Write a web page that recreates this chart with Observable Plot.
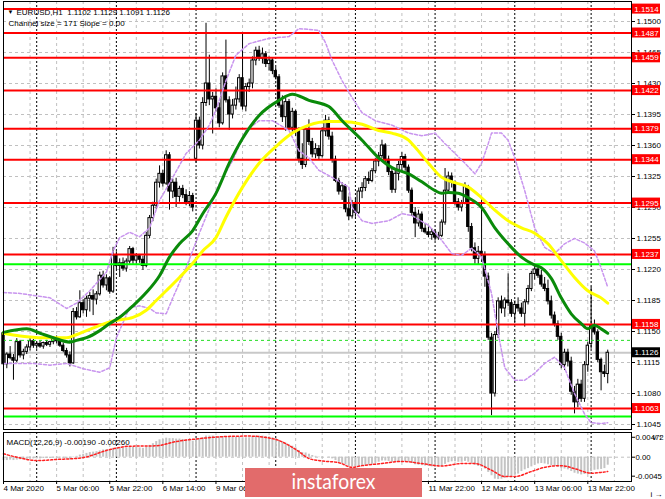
<!DOCTYPE html>
<html><head><meta charset="utf-8">
<script src="https://cdn.jsdelivr.net/npm/d3@7"></script>
<script src="https://cdn.jsdelivr.net/npm/@observablehq/plot@0.6"></script>
<style>
body{margin:0;background:#fff;}
#wrap{position:relative;width:665px;height:499px;overflow:hidden;background:#fff;}
#wrap > svg, #wrap > figure > svg{display:block;}
#logo{position:absolute;left:245px;top:468px;width:177px;height:29px;}
</style></head><body><div id="wrap"></div>
<script>
// ---- candle data (EURUSD H1) ----
const open = [
1.1148,1.1113,1.1124,1.1120,1.1117,1.1138,1.1123,1.1127,1.1132,1.1139,
1.1134,1.1136,1.1133,1.1137,1.1135,1.1138,1.1142,1.1139,1.1134,1.1128,
1.1123,1.1114,1.1172,1.1166,1.1182,1.1174,1.1187,1.1190,1.1186,1.1192,
1.1213,1.1202,1.1210,1.1195,1.1236,1.1224,1.1227,1.1221,1.1229,1.1243,
1.1230,1.1235,1.1231,1.1224,1.1258,1.1278,1.1292,1.1318,1.1328,1.1317,
1.1349,1.1308,1.1318,1.1302,1.1311,1.1304,1.1296,1.1303,1.1345,1.1388,
1.1360,1.1408,1.1430,1.1412,1.1415,1.1402,1.1385,1.1438,1.1411,1.1395,
1.1405,1.1412,1.1436,1.1404,1.1426,1.1430,1.1456,1.1467,1.1458,1.1463,
1.1452,1.1456,1.1444,1.1437,1.1405,1.1392,1.1409,1.1380,1.1398,1.1377,
1.1345,1.1338,1.1378,1.1364,1.1350,1.1356,1.1348,1.1376,1.1388,1.1370,
1.1344,1.1320,1.1308,1.1314,1.1288,1.1280,1.1294,1.1284,1.1308,1.1312,
1.1322,1.1320,1.1331,1.1342,1.1348,1.1360,1.1344,1.1330,1.1310,1.1328,
1.1338,1.1347,1.1335,1.1309,1.1284,1.1272,1.1282,1.1266,1.1262,1.1259,
1.1262,1.1256,1.1258,1.1273,1.1309,1.1325,1.1318,1.1296,1.1290,1.1295,
1.1313,1.1268,1.1244,1.1232,1.1240,1.1236,1.1212,1.1143,1.1080,1.1146,
1.1184,1.1176,1.1185,1.1182,1.1170,1.1180,1.1176,1.1170,1.1183,1.1198,
1.1215,1.1220,1.1213,1.1203,1.1198,1.1184,1.1168,1.1158,1.1144,1.1112,
1.1126,1.1116,1.1082,1.1070,1.1090,1.1074,1.1112,1.1136,1.1156,1.1149,
1.1118,1.1104,1.1102];
const high = [
1.1153,1.1126,1.1133,1.1124,1.1142,1.1140,1.1130,1.1135,1.1142,1.1141,
1.1138,1.1139,1.1138,1.1140,1.1139,1.1144,1.1145,1.1141,1.1137,1.1131,
1.1127,1.1176,1.1177,1.1196,1.1186,1.1190,1.1194,1.1197,1.1195,1.1217,
1.1218,1.1214,1.1212,1.1245,1.1240,1.1232,1.1233,1.1232,1.1246,1.1245,
1.1238,1.1237,1.1235,1.1262,1.1281,1.1296,1.1322,1.1337,1.1332,1.1354,
1.1352,1.1322,1.1323,1.1314,1.1315,1.1310,1.1308,1.1306,1.1396,1.1392,
1.1414,1.1498,1.1462,1.1420,1.1424,1.1408,1.1442,1.1479,1.1415,1.1412,
1.1426,1.1440,1.1486,1.1430,1.1435,1.1460,1.1471,1.1472,1.1470,1.1466,
1.1460,1.1458,1.1448,1.1440,1.1416,1.1413,1.1412,1.1402,1.1400,1.1380,
1.1362,1.1382,1.1389,1.1368,1.1362,1.1360,1.1380,1.1394,1.1392,1.1375,
1.1348,1.1323,1.1318,1.1316,1.1302,1.1298,1.1300,1.1312,1.1318,1.1325,
1.1330,1.1334,1.1345,1.1352,1.1366,1.1362,1.1348,1.1334,1.1332,1.1342,
1.1352,1.1350,1.1338,1.1312,1.1290,1.1287,1.1285,1.1272,1.1268,1.1266,
1.1265,1.1262,1.1276,1.1334,1.1330,1.1329,1.1320,1.1300,1.1298,1.1318,
1.1315,1.1272,1.1250,1.1246,1.1301,1.1240,1.1216,1.1148,1.1150,1.1188,
1.1190,1.1188,1.1215,1.1186,1.1184,1.1188,1.1182,1.1186,1.1202,1.1218,
1.1224,1.1224,1.1219,1.1211,1.1208,1.1190,1.1172,1.1162,1.1148,1.1130,
1.1130,1.1121,1.1088,1.1096,1.1095,1.1116,1.1138,1.1200,1.1163,1.1152,
1.1120,1.1112,1.1129];
const low = [
1.1110,1.1108,1.1118,1.1095,1.1115,1.1120,1.1118,1.1124,1.1128,1.1131,
1.1130,1.1131,1.1130,1.1133,1.1132,1.1135,1.1136,1.1132,1.1126,1.1120,
1.1110,1.1113,1.1163,1.1165,1.1170,1.1166,1.1172,1.1168,1.1180,1.1190,
1.1199,1.1196,1.1192,1.1193,1.1220,1.1211,1.1218,1.1217,1.1226,1.1226,
1.1226,1.1227,1.1219,1.1222,1.1255,1.1274,1.1288,1.1312,1.1313,1.1315,
1.1287,1.1300,1.1290,1.1296,1.1300,1.1292,1.1291,1.1285,1.1340,1.1356,
1.1355,1.1404,1.1405,1.1373,1.1398,1.1380,1.1383,1.1408,1.1377,1.1390,
1.1400,1.1408,1.1400,1.1398,1.1420,1.1424,1.1450,1.1455,1.1452,1.1448,
1.1444,1.1440,1.1434,1.1402,1.1386,1.1376,1.1377,1.1375,1.1370,1.1340,
1.1333,1.1335,1.1360,1.1346,1.1345,1.1344,1.1346,1.1370,1.1366,1.1340,
1.1318,1.1304,1.1298,1.1284,1.1275,1.1277,1.1279,1.1282,1.1300,1.1308,
1.1316,1.1318,1.1328,1.1336,1.1345,1.1340,1.1326,1.1306,1.1306,1.1320,
1.1330,1.1331,1.1306,1.1280,1.1256,1.1268,1.1262,1.1260,1.1256,1.1253,
1.1252,1.1253,1.1256,1.1270,1.1305,1.1312,1.1292,1.1286,1.1285,1.1293,
1.1262,1.1240,1.1226,1.1225,1.1228,1.1200,1.1140,1.1055,1.1076,1.1142,
1.1170,1.1166,1.1178,1.1166,1.1160,1.1172,1.1166,1.1155,1.1180,1.1195,
1.1208,1.1210,1.1200,1.1195,1.1180,1.1164,1.1155,1.1140,1.1108,1.1106,
1.1110,1.1078,1.1057,1.1064,1.1070,1.1070,1.1104,1.1130,1.1146,1.1115,
1.1083,1.1098,1.1091];
const close = [
1.1113,1.1124,1.1120,1.1117,1.1138,1.1123,1.1127,1.1132,1.1139,1.1134,
1.1136,1.1133,1.1137,1.1135,1.1138,1.1142,1.1139,1.1134,1.1128,1.1123,
1.1114,1.1172,1.1166,1.1182,1.1174,1.1187,1.1190,1.1186,1.1192,1.1213,
1.1202,1.1210,1.1195,1.1236,1.1224,1.1227,1.1221,1.1229,1.1243,1.1230,
1.1235,1.1231,1.1224,1.1258,1.1278,1.1292,1.1318,1.1328,1.1317,1.1349,
1.1308,1.1318,1.1302,1.1311,1.1304,1.1296,1.1303,1.1290,1.1388,1.1360,
1.1408,1.1430,1.1412,1.1415,1.1402,1.1385,1.1438,1.1411,1.1395,1.1405,
1.1412,1.1436,1.1404,1.1426,1.1430,1.1456,1.1467,1.1458,1.1463,1.1452,
1.1456,1.1444,1.1437,1.1405,1.1392,1.1409,1.1380,1.1398,1.1377,1.1345,
1.1338,1.1378,1.1364,1.1350,1.1356,1.1348,1.1376,1.1388,1.1370,1.1344,
1.1320,1.1308,1.1314,1.1288,1.1280,1.1294,1.1284,1.1308,1.1312,1.1322,
1.1320,1.1331,1.1342,1.1348,1.1360,1.1344,1.1330,1.1310,1.1328,1.1338,
1.1347,1.1335,1.1309,1.1284,1.1272,1.1282,1.1266,1.1262,1.1259,1.1262,
1.1256,1.1258,1.1273,1.1309,1.1325,1.1318,1.1296,1.1290,1.1295,1.1313,
1.1268,1.1244,1.1232,1.1240,1.1236,1.1212,1.1143,1.1080,1.1146,1.1184,
1.1176,1.1185,1.1182,1.1170,1.1180,1.1176,1.1170,1.1183,1.1198,1.1215,
1.1220,1.1213,1.1203,1.1198,1.1184,1.1168,1.1158,1.1144,1.1112,1.1126,
1.1116,1.1082,1.1070,1.1090,1.1074,1.1112,1.1134,1.1156,1.1149,1.1118,
1.1104,1.1102,1.1126];

// ---- moving averages & channel (bar index, price) ----
const greenIdx = [0,7,11,15,20,22,25,29,32,35,39,43,47,50,53,57,60,64,68,72,77,83,87,92,98,102,108,113,117,122,126,130,132,134,137,140,144,148,152,156,160,162,165,168,171,174,176,178,180,182];
const greenVal = [1.1149,1.1153,1.1148,1.1143,1.1138,1.1140,1.1143,1.1151,1.1159,1.1166,1.1179,1.1194,1.1213,1.1234,1.1249,1.1264,1.1283,1.1306,1.1340,1.1368,1.1394,1.1411,1.1418,1.1411,1.1404,1.1388,1.1366,1.1346,1.1335,1.1328,1.1319,1.1309,1.1306,1.1307,1.1306,1.1301,1.1290,1.1267,1.1249,1.1234,1.1225,1.1222,1.1210,1.1188,1.1170,1.1159,1.1153,1.1157,1.1153,1.1148];
const yellowIdx = [0,5,12,19,21,25,29,33,39,43,46,49,53,57,60,64,67,72,77,83,87,92,98,102,108,113,117,122,124,128,132,136,140,144,148,152,156,160,164,168,172,176,180,182];
const yellowVal = [1.1148,1.1145,1.1143,1.1143,1.1145,1.1151,1.1157,1.1162,1.1166,1.1174,1.1185,1.1196,1.1211,1.1227,1.1241,1.1256,1.1279,1.1313,1.1340,1.1362,1.1374,1.1383,1.1387,1.1387,1.1384,1.1377,1.1374,1.1366,1.1358,1.1340,1.1324,1.1318,1.1313,1.1301,1.1287,1.1275,1.1267,1.1261,1.1249,1.1230,1.1211,1.1196,1.1188,1.1182];
const upperIdx = [0,5,14,19,22,26,31,33,35,38,41,44,47,51,55,59,62,64,67,70,74,80,86,89,95,97,99,102,105,108,112,117,122,126,130,133,136,139,142,144,146,147,150,152,154,157,160,163,166,169,172,175,178,180,182];
const upperVal = [1.1194,1.1193,1.1188,1.1176,1.1182,1.1196,1.1217,1.1241,1.1256,1.1262,1.1257,1.1267,1.1298,1.1324,1.1351,1.1366,1.1383,1.1400,1.1433,1.1462,1.1475,1.1481,1.1483,1.1492,1.1490,1.1476,1.1456,1.1433,1.1414,1.1397,1.1388,1.1383,1.1374,1.1371,1.1374,1.1362,1.1351,1.1340,1.1328,1.1340,1.1362,1.1374,1.1374,1.1366,1.1346,1.1309,1.1267,1.1245,1.1238,1.1249,1.1255,1.1250,1.1241,1.1222,1.1200];
const lowerIdx = [0,9,14,19,24,29,32,34,38,41,44,46,49,51,55,59,63,65,69,73,77,81,86,89,92,95,99,104,105,108,111,116,120,123,128,132,135,138,141,144,147,149,151,154,157,160,163,166,169,172,175,177,180,182];
const lowerVal = [1.1114,1.1114,1.1112,1.1114,1.1108,1.1104,1.1109,1.1143,1.1177,1.1179,1.1176,1.1171,1.1170,1.1188,1.1222,1.1261,1.1298,1.1317,1.1343,1.1377,1.1388,1.1388,1.1377,1.1354,1.1346,1.1332,1.1324,1.1313,1.1290,1.1275,1.1272,1.1275,1.1283,1.1281,1.1270,1.1253,1.1238,1.1236,1.1244,1.1234,1.1193,1.1148,1.1109,1.1095,1.1095,1.1103,1.1114,1.1121,1.1109,1.1080,1.1057,1.1047,1.1046,1.1047];

// ---- MACD ----
const macd = [
-0.0008,-0.0008,-0.0007,-0.0008,-0.0007,-0.0006,-0.0006,-0.0005,-0.0004,-0.0004,
-0.0004,-0.0004,-0.0003,-0.0003,-0.0003,-0.0002,-0.0002,-0.0002,-0.0003,-0.0004,
-0.0006,-0.0001,0.0002,0.0005,0.0007,0.0009,0.0011,0.0012,0.0013,0.0015,
0.0017,0.0018,0.0018,0.0021,0.0022,0.0022,0.0022,0.0022,0.0023,0.0023,
0.0023,0.0022,0.0021,0.0024,0.0028,0.0032,0.0037,0.0041,0.0042,0.0045,
0.0044,0.0044,0.0043,0.0043,0.0042,0.0041,0.0040,0.0038,0.0043,0.0044,
0.0046,0.0050,0.0050,0.0050,0.0049,0.0048,0.0049,0.0048,0.0047,0.0047,
0.0047,0.0048,0.0046,0.0046,0.0046,0.0048,0.0050,0.0050,0.0050,0.0049,
0.0048,0.0046,0.0044,0.0040,0.0036,0.0033,0.0029,0.0026,0.0022,0.0016,
0.0011,0.0010,0.0007,0.0004,0.0002,-0.0001,-0.0001,0.0000,-0.0001,-0.0004,
-0.0008,-0.0012,-0.0015,-0.0019,-0.0022,-0.0023,-0.0024,-0.0023,-0.0022,-0.0020,
-0.0019,-0.0017,-0.0014,-0.0012,-0.0009,-0.0009,-0.0010,-0.0012,-0.0012,-0.0011,
-0.0010,-0.0010,-0.0012,-0.0015,-0.0018,-0.0019,-0.0020,-0.0021,-0.0022,-0.0023,
-0.0024,-0.0023,-0.0022,-0.0017,-0.0013,-0.0011,-0.0011,-0.0012,-0.0012,-0.0010,
-0.0012,-0.0015,-0.0019,-0.0022,-0.0024,-0.0028,-0.0036,-0.0044,-0.0052,-0.0053,
-0.0052,-0.0050,-0.0048,-0.0046,-0.0043,-0.0040,-0.0034,-0.0030,-0.0027,-0.0023,
-0.0019,-0.0016,-0.0015,-0.0016,-0.0018,-0.0020,-0.0022,-0.0024,-0.0027,-0.0028,
-0.0030,-0.0034,-0.0038,-0.0040,-0.0042,-0.0041,-0.0039,-0.0034,-0.0031,-0.0030,
-0.0029,-0.0027,-0.0019];
const signalIdx = [0,4,10,17,20,24,32,38,46,52,59,67,74,82,86,89,92,95,101,105,108,114,120,126,132,138,142,147,151,154,159,163,168,172,177,180,182];
const signalVal = [0.0008,0.0000,-0.0008,-0.0005,-0.0004,-0.0001,0.0018,0.0026,0.0027,0.0037,0.0044,0.0049,0.0050,0.0042,0.0028,0.0013,-0.0003,-0.0008,-0.0013,-0.0024,-0.0020,-0.0015,-0.0010,-0.0015,-0.0021,-0.0015,-0.0015,-0.0031,-0.0046,-0.0046,-0.0034,-0.0024,-0.0020,-0.0027,-0.0038,-0.0036,-0.0034];

// ---- levels, ticks, labels ----
const redLevels = [1.1514,1.1487,1.1459,1.1422,1.1379,1.1344,1.1295,1.1237,1.1158,1.1063];
const greenLevels = [1.1226,1.1054];
const greenDashedLevels = [1.1140];
const lastPrice = 1.1126;
const priceTicks = [1.1045,1.1080,1.1115,1.1150,1.1185,1.1220,1.1255,1.1290,1.1325,1.1360,1.1395,1.1430,1.1465,1.1500];
const macdTicks = [0.00472,0,-0.0045];
const macdTickLabels = ["0.00472","0.00","-0.0045"];
const dateIdx = [0,16,32,48,64,80,96,112,128,144,160,176];
const dateLabels = ["4 Mar 2020","5 Mar 06:00","5 Mar 22:00","6 Mar 14:00","9 Mar 06:00","9 Mar 22:00","10 Mar 14:00","11 Mar 06:00","11 Mar 22:00","12 Mar 14:00","13 Mar 06:00","13 Mar 22:00"];
const daySepIdx = [10,34,58,82,106,130,154,177];
const gridIdx = [0,8,16,24,32,40,48,56,64,72,80,88,96,104,112,120,128,136,144,152,160,168,176,184];
const titleText = "EURUSD,H1  1.1102 1.1129 1.1091 1.1126";
const subText = "Channel size = 171 Slope = 0.00";
const macdText = "MACD(12,26,9) -0.00190 -0.00260";

// ---- build ----
const XMAX = 189.16;
const FONT = "Liberation Sans, Arial, sans-serif";
const bars = close.map((c, i) => ({i, o: open[i], h: high[i], l: low[i], c}));
const pts = (I, V) => I.map((i, k) => ({i, v: V[k]}));
const greenPts = pts(greenIdx, greenVal), yellowPts = pts(yellowIdx, yellowVal);
const upperPts = pts(upperIdx, upperVal), lowerPts = pts(lowerIdx, lowerVal);
const signalPts = pts(signalIdx, signalVal);
const macdBars = macd.map((v, i) => ({i, v}));
const violet = "#c894ee";

const main = Plot.plot({
  width: 665, height: 431,
  marginTop: 1, marginBottom: 2, marginLeft: 3, marginRight: 34,
  x: {domain: [0, XMAX], axis: null},
  y: {domain: [1.103937, 1.152258], axis: null},
  style: {fontFamily: FONT, fontSize: "8px", background: "white", color: "black", overflow: "visible"},
  marks: [
    Plot.ruleY(priceTicks, {stroke: "#c0c0c0", strokeDasharray: "3,3"}),
    Plot.ruleX(gridIdx, {stroke: "#c0c0c0", strokeDasharray: "3,3"}),
    Plot.ruleX(daySepIdx, {stroke: "#000", strokeDasharray: "2,2"}),
    Plot.ruleY([lastPrice], {stroke: "#c8c8c8", strokeWidth: 2}),
    Plot.ruleX(bars, {x: "i", y1: "l", y2: "h", stroke: "black", strokeWidth: 1}),
    Plot.rect(bars, {x1: d => d.i - 0.35, x2: d => d.i + 0.35, y1: "o", y2: "c",
      fill: d => d.c >= d.o ? "white" : "black", stroke: "black", strokeWidth: 1}),
    Plot.ruleY(redLevels, {stroke: "#ff0000", strokeWidth: 2}),
    Plot.ruleY(greenLevels, {stroke: "#00ff00", strokeWidth: 2}),
    Plot.ruleY(greenDashedLevels, {stroke: "#22dd22", strokeDasharray: "3,3"}),
    Plot.line(upperPts, {x: "i", y: "v", stroke: violet, strokeDasharray: "3,2"}),
    Plot.line(lowerPts, {x: "i", y: "v", stroke: violet, strokeDasharray: "3,2"}),
    Plot.line(yellowPts, {x: "i", y: "v", stroke: "#ffff00", strokeWidth: 3, curve: "monotone-x"}),
    Plot.line(greenPts, {x: "i", y: "v", stroke: "#0a8a0a", strokeWidth: 3, curve: "monotone-x"}),
    Plot.axisY({anchor: "right", ticks: priceTicks, tickSize: 3, tickPadding: 2, tickFormat: d => d.toFixed(4), fontSize: 8}),
    Plot.rect(redLevels, {x1: XMAX, x2: XMAX, y1: d => d, y2: d => d, insetLeft: 1, insetRight: -29, insetTop: -5, insetBottom: -5, fill: "#ff0000"}),
    Plot.text(redLevels, {frameAnchor: "right", y: d => d, dx: 15, text: d => d.toFixed(4), fill: "white", fontSize: 8, textAnchor: "middle"}),
    Plot.rect([lastPrice], {x1: XMAX, x2: XMAX, y1: d => d, y2: d => d, insetLeft: 1, insetRight: -29, insetTop: -5, insetBottom: -5, fill: "#000"}),
    Plot.text([lastPrice], {frameAnchor: "right", y: d => d, dx: 15, text: d => d.toFixed(4), fill: "white", fontSize: 8, textAnchor: "middle"}),
    Plot.frame({stroke: "black"}),
    Plot.text(["\u25BC"], {frameAnchor: "top-left", dx: 4, dy: 8, fontSize: 6, fill: "black"}),
    Plot.text([titleText], {frameAnchor: "top-left", dx: 13, dy: 8, fontSize: 8, fill: "black", textAnchor: "start"}),
    Plot.text([subText], {frameAnchor: "top-left", dx: 5, dy: 18.5, fontSize: 8, fill: "black", textAnchor: "start"})
  ]
});

const macdPlot = Plot.plot({
  width: 665, height: 68,
  marginTop: 1, marginBottom: 18, marginLeft: 3, marginRight: 34,
  x: {domain: [0, XMAX], axis: null},
  y: {domain: [-0.00576, 0.00585], axis: null},
  style: {fontFamily: FONT, fontSize: "8px", background: "white", color: "black", overflow: "visible"},
  marks: [
    Plot.ruleX(gridIdx, {stroke: "#c0c0c0", strokeDasharray: "3,3"}),
    Plot.ruleX(daySepIdx, {stroke: "#000", strokeDasharray: "2,2"}),
    Plot.ruleY([0], {stroke: "#c0c0c0", strokeDasharray: "3,3"}),
    Plot.ruleX(macdBars, {x: "i", y1: 0, y2: "v", stroke: "#c4c4c4", strokeWidth: 2}),
    Plot.line(signalPts, {x: "i", y: "v", stroke: "#ff2020", strokeDasharray: "2,2", curve: "monotone-x"}),
    Plot.axisY({anchor: "right", ticks: macdTicks, tickSize: 3, tickPadding: 1, tickFormat: d => macdTickLabels[macdTicks.indexOf(d)], fontSize: 7.8}),
    Plot.axisX({anchor: "bottom", ticks: dateIdx, tickSize: 3, tickPadding: 1, textAnchor: "start", tickFormat: d => dateLabels[dateIdx.indexOf(d)], fontSize: 8}),
    Plot.frame({stroke: "black"}),
    Plot.text([macdText], {frameAnchor: "top-left", dx: 3, dy: 7, fontSize: 8, fill: "black", textAnchor: "start"})
  ]
});

const wrap = document.getElementById("wrap");
wrap.appendChild(main);
wrap.appendChild(macdPlot);
const logo = document.createElement("div");
logo.id = "logo";
logo.innerHTML = '<svg width="177" height="29"><rect width="177" height="29" fill="#e26b6b"/><text x="88.5" y="21" text-anchor="middle" fill="#fff" font-family="Lato, sans-serif" font-size="22" textLength="84" lengthAdjust="spacingAndGlyphs">instaforex</text></svg>';
wrap.appendChild(logo);
</script></body></html>
